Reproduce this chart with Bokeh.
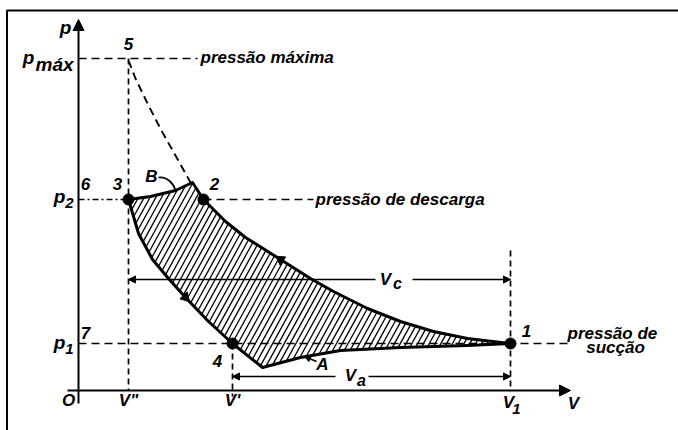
from bokeh.plotting import figure
from bokeh.models import Range1d, Arrow, NormalHead
from bokeh.core.properties import value
from bokeh.embed import file_html
from bokeh.resources import INLINE

# ---- diagram values (V horizontal, p vertical, origin at O) ----
V_dd, V_d, V_1, V_2 = 50, 154, 432, 125      # V'', V', V1, V at point 2
p_1, p_2, p_max = 47, 191, 332

compress_V = [432, 389, 355, 322, 289, 255, 232, 202, 167, 147, 125]
compress_p = [47, 52, 59, 69, 82, 99, 112, 131, 153, 169, 191]
peak_V, peak_p = 114, 208
discharge_V = [97, 72, 50]
discharge_p = [200, 194, 191]
expansion_V = [60, 74, 90, 107, 130, 154]
expansion_p = [157, 131, 112, 93, 69, 47]
suction_V = [184, 222, 262, 322, 389, 432]
suction_p = [23, 33, 40, 43, 45, 47]
iso_V = [50, 57, 70, 84, 97, 112]
iso_p = [330, 312, 285, 258, 235, 208]

FONT = value("Liberation Sans")

p = figure(width=678, height=430, x_range=Range1d(-78, 600), y_range=Range1d(-40, 390),
           output_backend="svg", toolbar_location=None, min_border=0)
p.axis.visible = False
p.grid.visible = False
p.outline_line_color = None
p.background_fill_color = "white"

# frame (top and left edge of the scan)
p.line([-71.5, -71.5, 600], [-40, 380, 380], line_color="black", line_width=2)

# cycle polygon
poly_V = compress_V + [peak_V] + discharge_V + expansion_V + suction_V
poly_p = compress_p + [peak_p] + discharge_p + expansion_p + suction_p

# hatching clipped to the cycle polygon
k = 0.55
segs_x, segs_y = [], []
vals = [v - k * q for v, q in zip(poly_V, poly_p)]
c = min(vals) + 3
n = len(poly_V)
while c < max(vals):
    hits = []
    for i in range(n):
        a, b = i, (i + 1) % n
        fa, fb = vals[a] - c, vals[b] - c
        if (fa > 0) != (fb > 0):
            t = fa / (fa - fb)
            hits.append(poly_p[a] + t * (poly_p[b] - poly_p[a]))
    hits.sort()
    for j in range(0, len(hits) - 1, 2):
        segs_y.append([hits[j], hits[j + 1]])
        segs_x.append([c + k * hits[j], c + k * hits[j + 1]])
    c += 5.8
p.multi_line(segs_x, segs_y, line_color="black", line_width=1.3)

# dashed guide lines
dash_h = "8 5"
dash_v = "6 4"
p.line([0, 119], [p_max, p_max], line_color="black", line_width=1.7, line_dash=dash_h)
p.line([0, V_dd], [p_2, p_2], line_color="black", line_width=1.7, line_dash="6 3 2 3")
p.line([V_2, 235], [p_2, p_2], line_color="black", line_width=1.7, line_dash=dash_h)
p.line([0, 492], [p_1, p_1], line_color="black", line_width=1.7, line_dash=dash_h)
p.line([V_dd, V_dd], [p_max, 0], line_color="black", line_width=1.7, line_dash=dash_v)
p.line([V_d, V_d], [p_1, -6], line_color="black", line_width=1.7, line_dash=dash_v)
p.line([V_1, V_1], [140, 0], line_color="black", line_width=1.7, line_dash=dash_v)
p.line(iso_V, iso_p, line_color="black", line_width=1.9, line_dash="8 5")

# cycle outline
p.line(poly_V + [poly_V[0]], poly_p + [poly_p[0]], line_color="black", line_width=3,
       line_join="round")

# state points
p.scatter([V_1, V_2, V_dd, V_d], [p_1, p_2, p_2, p_1], size=11, color="black")

# direction arrows on curves
p.scatter([202], [131], marker="triangle", size=10, color="black", angle=0.99)
p.scatter([107], [93], marker="triangle", size=10, color="black", angle=-2.39)

# axes
p.add_layout(Arrow(end=NormalHead(size=11, fill_color="black", line_color="black"),
                   x_start=-11, y_start=0, x_end=492, y_end=0, line_width=2, line_color="black"))
p.add_layout(Arrow(end=NormalHead(size=11, fill_color="black", line_color="black"),
                   x_start=0, y_start=-13, x_end=0, y_end=371, line_width=2, line_color="black"))

# dimension lines Vc, Va
def dim(x0, x1, y):
    p.add_layout(Arrow(end=NormalHead(size=7, fill_color="black", line_color="black"),
                       x_start=x0, y_start=y, x_end=x1, y_end=y, line_width=1.3, line_color="black"))

dim(297, V_dd, 111)
dim(334, V_1, 111)
dim(257, V_d, 14)
dim(290, V_1, 14)

# leaders
p.bezier(x0=[80], y0=[213], x1=[97], y1=[200], cx0=[89], cy0=[214], cx1=[95], cy1=[207],
         line_color="black", line_width=1.7)
p.add_layout(Arrow(end=NormalHead(size=6, fill_color="black", line_color="black"),
                   x_start=238, y_start=29, x_end=226, y_end=34, line_width=1.6, line_color="black"))

def lab(x, y, t, size=17, align="center"):
    p.text(x=[x], y=[y], text=[t], text_font=FONT, text_font_style="bold italic",
           text_font_size=f"{size}px", text_align=align, text_baseline="middle",
           text_color="black")

lab(-13, 363, "p", 19)
lab(-50, 333, "p", 19)
lab(-24, 326, "máx", 19)
lab(50, 347, "5")
lab(122, 333, "pressão máxima", 17, "left")
lab(7, 207, "6")
lab(39, 207, "3")
lab(73, 214, "B")
lab(136, 207, "2")
lab(-19, 194, "p", 19)
lab(-9, 188, "2", 15)
lab(237, 191, "pressão de descarga", 17, "left")
lab(307, 111, "V")
lab(319, 107, "c", 16)
lab(7, 58, "7")
lab(-19, 48, "p", 19)
lab(-9, 42, "1", 15)
lab(139, 30, "4")
lab(448, 60, "1")
lab(489, 57, "pressão de", 17, "left")
lab(537, 43, "sucção", 17)
lab(244, 26, "A")
lab(272, 15, "V")
lab(283, 10, "a", 16)
lab(-10, -10, "O")
lab(50, -10, 'V"')
lab(154, -10, "V'")
lab(430, -12, "V")
lab(438, -18, "1", 15)
lab(495, -13, "V")

open("out.html", "w").write(file_html(p, INLINE))
